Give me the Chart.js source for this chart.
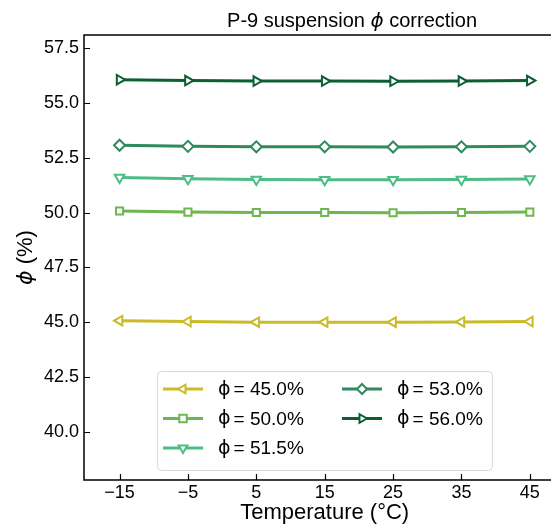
<!DOCTYPE html>
<html lang="en">
<head>
    <meta charset="UTF-8">
    <title>P-9 suspension phi correction</title>
    <script src="https://cdn.jsdelivr.net/npm/chart.js"></script>
    <style>
        html, body {
            margin: 0;
            padding: 0;
            background: white;
            overflow: hidden;
        }
    </style>
</head>
<body>
    <canvas id="phiChart" width="551" height="527"></canvas>

    <script>
        // temperatures (°C)
        const temps = [-15, -5, 5, 15, 25, 35, 45];

        // corrected phi (%) for each nominal volume fraction
        const phi45 = [45.07, 45.03, 45.00, 45.00, 45.00, 45.01, 45.03];
        const phi50 = [50.07, 50.02, 50.00, 50.00, 49.99, 50.00, 50.02];
        const phi515 = [51.60, 51.54, 51.51, 51.50, 51.50, 51.51, 51.53];
        const phi53 = [53.07, 53.02, 53.00, 53.00, 52.99, 53.00, 53.02];
        const phi56 = [56.06, 56.02, 56.00, 56.00, 55.99, 56.00, 56.02];

        const seriesNames = ['45.0%', '50.0%', '51.5%', '53.0%', '56.0%'];
        const xTicks = [-15, -5, 5, 15, 25, 35, 45];
        const yTicks = [40.0, 42.5, 45.0, 47.5, 50.0, 52.5, 55.0, 57.5];

        const colors = ['#c9bb29', '#6fb650', '#4cbd84', '#2f8a5e', '#0b5f30'];
        const markers = [
            { style: 'triangle', rot: -90 },
            { style: 'rect', rot: 0 },
            { style: 'triangle', rot: 180 },
            { style: 'rectRot', rot: 0 },
            { style: 'triangle', rot: 90 }
        ];

        const allSeries = [phi45, phi50, phi515, phi53, phi56];

        function drawMarker(ctx, m, x, y, r, color) {
            ctx.save();
            ctx.translate(x, y);
            ctx.rotate(m.rot * Math.PI / 180);
            ctx.beginPath();
            if (m.style === 'triangle') {
                ctx.moveTo(0, -r);
                ctx.lineTo(r * 0.87, r * 0.5);
                ctx.lineTo(-r * 0.87, r * 0.5);
                ctx.closePath();
            } else if (m.style === 'rect') {
                ctx.rect(-r * 0.75, -r * 0.75, r * 1.5, r * 1.5);
            } else {
                ctx.moveTo(0, -r);
                ctx.lineTo(r, 0);
                ctx.lineTo(0, r);
                ctx.lineTo(-r, 0);
                ctx.closePath();
            }
            ctx.fillStyle = 'white';
            ctx.fill();
            ctx.lineWidth = 2;
            ctx.strokeStyle = color;
            ctx.stroke();
            ctx.restore();
        }

        // frame, inward ticks, titles and the in-axes legend
        const decorations = {
            id: 'decorations',
            afterDatasetsDraw(chart) {
                const ctx = chart.ctx;
                const a = chart.chartArea;
                const xs = chart.scales.x;
                const ys = chart.scales.y;

                ctx.save();
                // axes run past the right edge of the page, so no right spine
                ctx.strokeStyle = '#000';
                ctx.lineWidth = 1.5;
                ctx.beginPath();
                ctx.moveTo(chart.width, a.top);
                ctx.lineTo(a.left, a.top);
                ctx.lineTo(a.left, a.bottom);
                ctx.lineTo(chart.width, a.bottom);
                ctx.stroke();

                ctx.lineWidth = 1.2;
                ctx.beginPath();
                xTicks.forEach(v => {
                    const px = Math.round(xs.getPixelForValue(v)) + 0.5;
                    ctx.moveTo(px, a.bottom);
                    ctx.lineTo(px, a.bottom - 6);
                });
                yTicks.forEach(v => {
                    const py = Math.round(ys.getPixelForValue(v)) + 0.5;
                    ctx.moveTo(a.left, py);
                    ctx.lineTo(a.left + 6, py);
                });
                ctx.stroke();

                // title with italic phi, centred on the full axes
                const parts = [
                    { t: 'P-9 suspension ', f: '20px "Liberation Sans", Arial, sans-serif' },
                    { t: '\u03D5', f: 'italic 20px "DejaVu Sans", sans-serif' },
                    { t: ' correction', f: '20px "Liberation Sans", Arial, sans-serif' }
                ];
                let total = 0;
                parts.forEach(p => { ctx.font = p.f; total += ctx.measureText(p.t).width; });
                let tx = xs.getPixelForValue(19) - total / 2;
                ctx.fillStyle = '#000';
                ctx.textBaseline = 'alphabetic';
                ctx.textAlign = 'left';
                parts.forEach(p => {
                    ctx.font = p.f;
                    ctx.fillText(p.t, tx, 27);
                    tx += ctx.measureText(p.t).width;
                });

                // x axis title
                ctx.font = '22px "Liberation Sans", Arial, sans-serif';
                ctx.textAlign = 'center';
                ctx.fillText('Temperature (\u00B0C)', (xs.getPixelForValue(-15) + xs.getPixelForValue(45)) / 2, 519);

                // y axis title, rotated
                ctx.save();
                ctx.translate(32, (a.top + a.bottom) / 2);
                ctx.rotate(-Math.PI / 2);
                ctx.textAlign = 'left';
                const yParts = [
                    { t: '\u03D5', f: 'italic 22px "DejaVu Sans", sans-serif' },
                    { t: ' (%)', f: '22px "Liberation Sans", Arial, sans-serif' }
                ];
                let yw = 0;
                yParts.forEach(p => { ctx.font = p.f; yw += ctx.measureText(p.t).width; });
                let yx = -yw / 2;
                yParts.forEach(p => {
                    ctx.font = p.f;
                    ctx.fillText(p.t, yx, 0);
                    yx += ctx.measureText(p.t).width;
                });
                ctx.restore();

                // legend (two columns, column-major like matplotlib)
                const lx = a.left + 73;
                const ly = a.top + 336;
                const lw = 335;
                const lh = 99;
                ctx.beginPath();
                ctx.roundRect(lx + 0.5, ly + 0.5, lw, lh, 4);
                ctx.fillStyle = 'rgba(255,255,255,0.85)';
                ctx.fill();
                ctx.strokeStyle = '#d9d9d9';
                ctx.lineWidth = 1;
                ctx.stroke();

                chart.data.datasets.forEach((ds, i) => {
                    const col = i < 3 ? 0 : 1;
                    const row = i < 3 ? i : i - 3;
                    const x0 = lx + 6 + col * 179;
                    const y0 = ly + 18 + row * 29.5;
                    ctx.strokeStyle = ds.borderColor;
                    ctx.lineWidth = 3;
                    ctx.beginPath();
                    ctx.moveTo(x0, y0);
                    ctx.lineTo(x0 + 40, y0);
                    ctx.stroke();
                    drawMarker(ctx, markers[i], x0 + 20, y0, 5, ds.borderColor);

                    ctx.fillStyle = '#000';
                    ctx.textAlign = 'left';
                    ctx.textBaseline = 'middle';
                    let px = x0 + 55;
                    ctx.font = '19px "DejaVu Sans", sans-serif';
                    ctx.fillText('\u03D5', px, y0 + 1);
                    px += ctx.measureText('\u03D5').width + 3;
                    ctx.font = '19px "Liberation Sans", Arial, sans-serif';
                    ctx.fillText('= ' + ds.label, px, y0 + 1);
                });
                ctx.restore();
            }
        };

        const datasets = allSeries.map((vals, i) => ({
            label: seriesNames[i],
            data: temps.map((t, k) => ({ x: t, y: vals[k] })),
            showLine: true,
            borderColor: colors[i],
            backgroundColor: 'white',
            borderWidth: 3,
            pointStyle: markers[i].style,
            rotation: markers[i].rot,
            pointRadius: markers[i].style === 'rect' ? 5 : 5.5,
            pointBorderWidth: 2,
            pointBackgroundColor: 'white',
            pointBorderColor: colors[i]
        }));

        new Chart(document.getElementById('phiChart').getContext('2d'), {
            type: 'scatter',
            data: { datasets: datasets },
            options: {
                responsive: false,
                animation: false,
                layout: { padding: { top: 35, right: 0, left: 0, bottom: 0 } },
                plugins: {
                    legend: { display: false },
                    title: { display: false },
                    tooltip: { enabled: false }
                },
                scales: {
                    x: {
                        type: 'linear',
                        min: -20.2,
                        max: 47.0,
                        afterBuildTicks: s => { s.ticks = xTicks.map(v => ({ value: v })); },
                        afterFit: s => { s.height = 47; },
                        grid: { display: false, drawTicks: false },
                        border: { display: false },
                        ticks: {
                            color: '#000',
                            padding: 2,
                            font: { family: '"Liberation Sans", Arial, sans-serif', size: 18 },
                            callback: v => (v < 0 ? '\u2212' + Math.abs(v) : String(v))
                        }
                    },
                    y: {
                        min: 37.8,
                        max: 58.1,
                        afterBuildTicks: s => { s.ticks = yTicks.map(v => ({ value: v })); },
                        afterFit: s => { s.width = 84; },
                        grid: { display: false, drawTicks: false },
                        border: { display: false },
                        ticks: {
                            color: '#000',
                            padding: 5,
                            font: { family: '"Liberation Sans", Arial, sans-serif', size: 18 },
                            callback: v => Number(v).toFixed(1)
                        }
                    }
                }
            },
            plugins: [decorations]
        });
    </script>
</body>
</html>
